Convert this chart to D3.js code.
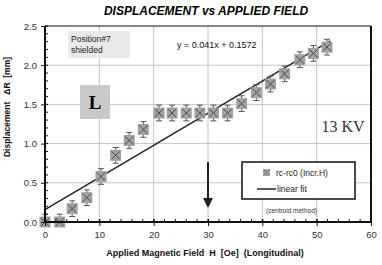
<!DOCTYPE html>
<html>
<head>
<meta charset="utf-8">
<script src="https://cdn.jsdelivr.net/npm/d3@7"></script>
<style>
	body { margin: 0; background: #fff; }
	svg text { font-family: Arial, "Liberation Sans", sans-serif; white-space: pre; }
</style>
</head>
<body>
<svg id="chart" width="382" height="265"></svg>
<script>
(function () {
	// data
	var fieldH = [0, 2.7, 5.0, 7.7, 10.3, 13.0, 15.5, 18.1, 21.0, 23.4, 26.0, 28.5, 31.0, 33.6, 36.2, 38.9, 41.5, 44.1, 46.9, 49.4, 51.9];
	var displacement = [0.0, 0.0, 0.17, 0.31, 0.58, 0.85, 1.04, 1.18, 1.39, 1.39, 1.39, 1.39, 1.39, 1.39, 1.51, 1.65, 1.76, 1.89, 2.07, 2.15, 2.23];
	var errBar = 0.1;
	var fitSlope = 0.041, fitIntercept = 0.1572, fitRange = [0, 52.5];
	var xTicks = [0, 10, 20, 30, 40, 50, 60];
	var yTicks = [0, 0.5, 1.0, 1.5, 2.0, 2.5];

	var svg = d3.select("#chart");
	var left = 45, right = 371, top = 26, bottom = 222;

	var x = d3.scaleLinear().domain([0, 60]).range([left, right]);
	var y = d3.scaleLinear().domain([0, 2.5]).range([bottom, top]);

	var points = fieldH.map(function (h, i) { return { h: h, d: displacement[i] }; });

	// title
	svg.append("text")
		.attr("x", 206).attr("y", 15)
		.attr("text-anchor", "middle")
		.style("font-size", "12px").style("font-weight", "bold").style("font-style", "italic")
		.text("DISPLACEMENT vs APPLIED FIELD");

	// grid
	svg.append("g").selectAll("line").data(xTicks.slice(1, -1)).enter().append("line")
		.attr("x1", function (d) { return x(d); }).attr("x2", function (d) { return x(d); })
		.attr("y1", top).attr("y2", bottom)
		.attr("stroke", "#c4c4c4").attr("stroke-width", 1);
	svg.append("g").selectAll("line").data(yTicks.slice(1, -1)).enter().append("line")
		.attr("y1", function (d) { return y(d); }).attr("y2", function (d) { return y(d); })
		.attr("x1", left).attr("x2", right)
		.attr("stroke", "#c4c4c4").attr("stroke-width", 1);

	// annotation boxes
	svg.append("rect").attr("x", 68).attr("y", 31).attr("width", 62).attr("height", 27).attr("fill", "#e9e9e9");
	svg.append("text").attr("x", 71).attr("y", 42).style("font-size", "8.5px").attr("fill", "#222").text("Position#7");
	svg.append("text").attr("x", 71).attr("y", 53).style("font-size", "8.5px").attr("fill", "#222").text("shielded");

	svg.append("text").attr("x", 177).attr("y", 48).style("font-size", "9px").attr("fill", "#111").text("y = 0.041x + 0.1572");

	svg.append("rect").attr("x", 80).attr("y", 85).attr("width", 30).attr("height", 34).attr("fill", "#c9c9c9");
	svg.append("text").attr("x", 95).attr("y", 109).attr("text-anchor", "middle")
		.style("font-family", "'Liberation Serif', 'DejaVu Serif', serif").style("font-size", "19px").style("font-weight", "bold")
		.text("L");

	svg.append("text").attr("x", 343).attr("y", 132).attr("text-anchor", "middle")
		.style("font-family", "'Liberation Serif', 'DejaVu Serif', serif").style("font-size", "16px").attr("fill", "#333")
		.text("13 KV");

	// linear fit
	svg.append("line")
		.attr("x1", x(fitRange[0])).attr("y1", y(fitSlope * fitRange[0] + fitIntercept))
		.attr("x2", x(fitRange[1])).attr("y2", y(fitSlope * fitRange[1] + fitIntercept))
		.attr("stroke", "#222").attr("stroke-width", 1.5);

	// error bars
	var eb = svg.append("g").attr("stroke", "#555").attr("stroke-width", 1);
	eb.selectAll(".v").data(points).enter().append("line")
		.attr("x1", function (d) { return x(d.h); }).attr("x2", function (d) { return x(d.h); })
		.attr("y1", function (d) { return y(d.d + errBar); }).attr("y2", function (d) { return y(Math.max(0, d.d - errBar)); });
	eb.selectAll(".t").data(points).enter().append("line")
		.attr("x1", function (d) { return x(d.h) - 3; }).attr("x2", function (d) { return x(d.h) + 3; })
		.attr("y1", function (d) { return y(d.d + errBar); }).attr("y2", function (d) { return y(d.d + errBar); });
	eb.selectAll(".b").data(points.filter(function (d) { return d.d - errBar > 0; })).enter().append("line")
		.attr("x1", function (d) { return x(d.h) - 3; }).attr("x2", function (d) { return x(d.h) + 3; })
		.attr("y1", function (d) { return y(d.d - errBar); }).attr("y2", function (d) { return y(d.d - errBar); });

	// markers: gray square with an X
	function marker(g, cx, cy, s) {
		g.append("rect").attr("x", cx - s / 2).attr("y", cy - s / 2).attr("width", s).attr("height", s)
			.attr("fill", "#a3a3a3");
		g.append("path")
			.attr("d", "M" + (cx - s / 2 + 1.5) + "," + (cy - s / 2 + 1.5) + "L" + (cx + s / 2 - 1.5) + "," + (cy + s / 2 - 1.5) +
				"M" + (cx + s / 2 - 1.5) + "," + (cy - s / 2 + 1.5) + "L" + (cx - s / 2 + 1.5) + "," + (cy + s / 2 - 1.5))
			.attr("stroke", "#4a4a4a").attr("stroke-width", 1).attr("fill", "none");
	}
	var mk = svg.append("g");
	points.forEach(function (d) { marker(mk, x(d.h), y(d.d), 11); });

	// arrow at H = 30
	svg.append("line").attr("x1", x(30)).attr("x2", x(30)).attr("y1", 162).attr("y2", 200)
		.attr("stroke", "#222").attr("stroke-width", 2);
	svg.append("path")
		.attr("d", "M" + (x(30) - 5) + ",198L" + (x(30) + 5) + ",198L" + x(30) + ",208Z")
		.attr("fill", "#222");

	// legend
	svg.append("rect").attr("x", 242).attr("y", 162).attr("width", 113).attr("height", 37)
		.attr("fill", "#fff").attr("stroke", "#111").attr("stroke-width", 1.5);
	var lg = svg.append("g");
	lg.append("rect").attr("x", 263).attr("y", 169).attr("width", 7).attr("height", 7).attr("fill", "#a3a3a3");
	lg.append("path").attr("d", "M264,170L269,175M269,170L264,175").attr("stroke", "#666").attr("stroke-width", 0.8);
	svg.append("text").attr("x", 276).attr("y", 176).style("font-size", "8.5px").attr("fill", "#222").text("rc-rc0 (Incr.H)");
	svg.append("line").attr("x1", 257).attr("x2", 276).attr("y1", 189).attr("y2", 189).attr("stroke", "#222").attr("stroke-width", 1.5);
	svg.append("text").attr("x", 277).attr("y", 192).style("font-size", "8.5px").attr("fill", "#222").text("linear fit");

	svg.append("text").attr("x", 266).attr("y", 213).style("font-size", "6.5px").attr("fill", "#333").text("(centroid method)");

	// frame
	svg.append("line").attr("x1", left).attr("x2", right).attr("y1", top).attr("y2", top).attr("stroke", "#111").attr("stroke-width", 1.2);
	svg.append("line").attr("x1", right).attr("x2", right).attr("y1", top).attr("y2", bottom).attr("stroke", "#111").attr("stroke-width", 2);

	// axes
	var xAxis = d3.axisBottom(x).tickValues(xTicks).tickSize(4).tickPadding(5).tickFormat(d3.format("d"));
	var gx = svg.append("g").attr("transform", "translate(0," + bottom + ")").call(xAxis);
	gx.select(".domain").remove();
	gx.selectAll(".tick line").attr("y1", -3).attr("stroke", "#111");
	gx.selectAll(".tick text").style("font-size", "9.5px").attr("fill", "#333");
	svg.append("g").selectAll("line").data(d3.range(0, 61, 2)).enter().append("line")
		.attr("x1", function (d) { return x(d); }).attr("x2", function (d) { return x(d); })
		.attr("y1", bottom).attr("y2", bottom - 3).attr("stroke", "#111");
	svg.append("line").attr("x1", left).attr("x2", right + 1).attr("y1", bottom).attr("y2", bottom).attr("stroke", "#111").attr("stroke-width", 2.2);

	var yAxis = d3.axisLeft(y).tickValues(yTicks).tickSize(4).tickPadding(4).tickFormat(d3.format(".1f"));
	var gy = svg.append("g").attr("transform", "translate(" + left + ",0)").call(yAxis);
	gy.select(".domain").remove();
	gy.selectAll(".tick line").attr("stroke", "#111");
	gy.selectAll(".tick text").style("font-size", "9.5px").attr("fill", "#333");
	svg.append("g").selectAll("line").data(d3.range(0, 2.51, 0.1)).enter().append("line")
		.attr("y1", function (d) { return y(d); }).attr("y2", function (d) { return y(d); })
		.attr("x1", left).attr("x2", left + 3).attr("stroke", "#111");
	svg.append("line").attr("x1", left).attr("x2", left).attr("y1", top).attr("y2", bottom + 1).attr("stroke", "#111").attr("stroke-width", 2);

	// axis titles
	svg.append("text").attr("x", 205).attr("y", 256).attr("text-anchor", "middle")
		.style("font-size", "9px").style("font-weight", "bold").attr("fill", "#111")
		.text("Applied Magnetic Field  H  [Oe]  (Longitudinal)");
	svg.append("text").attr("transform", "translate(10,107) rotate(-90)").attr("text-anchor", "middle")
		.style("font-size", "8.5px").style("font-weight", "bold").attr("fill", "#111")
		.text("Displacement   \u0394R  [mm]");
})();
</script>
</body>
</html>
